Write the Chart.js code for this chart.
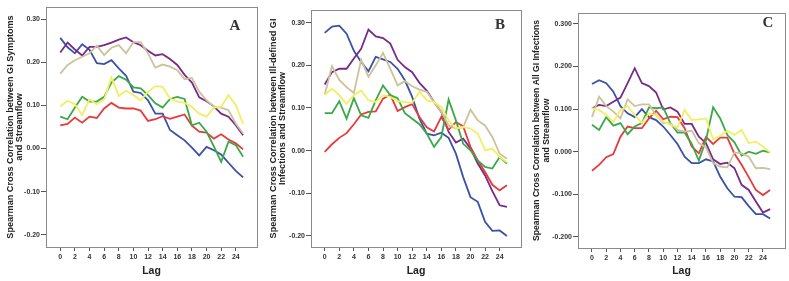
<!DOCTYPE html>
<html>
<head>
<meta charset="utf-8">
<script src="https://cdn.jsdelivr.net/npm/chart.js@4"></script>
<style>
html,body{margin:0;padding:0;background:#fff;}
.wrap{position:absolute;top:0;width:263px;height:281px;}
</style>
</head>
<body>
<div class="wrap" style="left:0"><canvas id="cA" width="263" height="281"></canvas></div>
<div class="wrap" style="left:263px"><canvas id="cB" width="263" height="281"></canvas></div>
<div class="wrap" style="left:526px"><canvas id="cC" width="263" height="281"></canvas></div>
<script>
const lags = [0,1,2,3,4,5,6,7,8,9,10,11,12,13,14,15,16,17,18,19,20,21,22,23,24,25];
const xTickLabels = [0,2,4,6,8,10,12,14,16,18,20,22,24];
const yTicksA = [-0.20,-0.10,0.00,0.10,0.20,0.30];
const yTicksB = [-0.20,-0.10,0.00,0.10,0.20,0.30];
const yTicksC = [-0.200,-0.100,0.000,0.100,0.200,0.300];

// Panel A: GI Symptoms
const A_blue   = [0.257,0.235,0.221,0.242,0.229,0.198,0.196,0.205,0.186,0.169,0.132,0.129,0.112,0.081,0.081,0.043,0.031,0.019,0.002,-0.016,0.004,-0.004,-0.014,-0.033,-0.052,-0.067];
const A_purple = [0.223,0.246,0.230,0.216,0.236,0.236,0.240,0.246,0.253,0.258,0.247,0.240,0.227,0.216,0.219,0.208,0.194,0.171,0.153,0.119,0.110,0.098,0.081,0.074,0.054,0.031];
const A_tan    = [0.174,0.194,0.205,0.213,0.221,0.239,0.217,0.234,0.240,0.221,0.247,0.247,0.221,0.188,0.195,0.190,0.182,0.161,0.164,0.132,0.112,0.097,0.095,0.089,0.058,0.035];
const A_yellow = [0.098,0.111,0.103,0.078,0.114,0.103,0.114,0.165,0.122,0.134,0.124,0.112,0.132,0.145,0.143,0.116,0.109,0.106,0.097,0.081,0.074,0.095,0.097,0.124,0.101,0.057];
const A_green  = [0.074,0.068,0.095,0.120,0.109,0.109,0.120,0.153,0.168,0.160,0.142,0.140,0.124,0.105,0.095,0.115,0.120,0.115,0.054,0.060,0.039,0.005,-0.031,0.016,0.008,-0.019];
const A_red    = [0.054,0.057,0.072,0.060,0.074,0.071,0.093,0.106,0.095,0.093,0.093,0.088,0.064,0.068,0.075,0.069,0.074,0.079,0.053,0.039,0.037,0.023,0.033,0.021,0.012,-0.002];

// Panel B: Ill-defined GI Infections
const B_blue   = [0.276,0.291,0.293,0.274,0.234,0.208,0.186,0.220,0.214,0.208,0.192,0.165,0.126,0.075,0.040,0.036,0.042,0.030,-0.007,-0.062,-0.109,-0.120,-0.167,-0.188,-0.187,-0.200];
const B_purple = [0.155,0.184,0.192,0.192,0.216,0.239,0.284,0.268,0.264,0.251,0.213,0.196,0.184,0.159,0.141,0.114,0.091,0.044,0.019,0.028,0.005,-0.030,-0.058,-0.095,-0.128,-0.132];
const B_tan    = [0.131,0.198,0.166,0.149,0.135,0.213,0.173,0.200,0.229,0.192,0.153,0.163,0.151,0.143,0.138,0.114,0.091,0.059,0.052,0.055,0.096,0.071,0.059,0.032,-0.007,-0.019];
const B_yellow = [0.131,0.145,0.130,0.110,0.130,0.141,0.118,0.114,0.130,0.126,0.116,0.114,0.112,0.138,0.118,0.114,0.102,0.071,0.052,0.055,0.052,0.040,0.001,0.005,-0.015,-0.027];
const B_green  = [0.088,0.088,0.116,0.075,0.123,0.083,0.077,0.118,0.153,0.130,0.123,0.088,0.075,0.062,0.040,0.009,0.032,0.120,0.071,0.016,0.001,-0.023,-0.038,-0.042,-0.015,-0.030];
const B_red    = [-0.003,0.015,0.030,0.041,0.062,0.085,0.091,0.092,0.122,0.131,0.093,0.102,0.109,0.079,0.055,0.045,0.079,0.049,0.067,0.057,0.009,-0.023,-0.050,-0.080,-0.093,-0.081];

// Panel C: All GI Infections
const C_blue   = [0.159,0.168,0.161,0.141,0.107,0.090,0.081,0.100,0.081,0.074,0.059,0.039,0.018,-0.012,-0.027,-0.027,-0.018,-0.023,-0.059,-0.086,-0.106,-0.107,-0.128,-0.147,-0.147,-0.157];
const C_purple = [0.102,0.110,0.107,0.117,0.127,0.161,0.196,0.161,0.154,0.139,0.099,0.104,0.094,0.065,0.065,0.035,0.020,-0.018,-0.029,-0.026,-0.039,-0.078,-0.090,-0.117,-0.143,-0.135];
const C_tan    = [0.081,0.129,0.107,0.094,0.078,0.123,0.107,0.111,0.111,0.086,0.067,0.067,0.051,0.047,0.049,0.020,0.010,-0.027,-0.035,-0.037,-0.002,-0.004,-0.012,-0.039,-0.038,-0.041];
const C_yellow = [0.102,0.098,0.086,0.070,0.098,0.107,0.086,0.067,0.090,0.086,0.070,0.063,0.057,0.098,0.074,0.076,0.078,0.029,0.037,0.049,0.039,0.051,0.020,0.023,0.012,-0.002];
const C_green  = [0.063,0.051,0.081,0.061,0.067,0.041,0.059,0.067,0.104,0.102,0.104,0.067,0.045,0.045,0.018,-0.021,0.027,0.104,0.078,0.039,0.022,-0.009,0.000,-0.005,0.002,-0.002];
const C_red    = [-0.045,-0.031,-0.013,-0.006,0.035,0.059,0.055,0.055,0.078,0.096,0.076,0.082,0.081,0.055,0.012,-0.004,0.034,0.018,0.033,0.033,-0.005,-0.031,-0.060,-0.090,-0.102,-0.090];

const COLORS = {yellow:'#f3ee62', tan:'#ccc29c', green:'#3aa948', red:'#e63a3c', purple:'#782a88', blue:'#3a52a6'};
const FONT = '"Liberation Sans", Arial, sans-serif';

function pts(vals){ return lags.map((l,i)=>({x:l, y:vals[i]})); }
function ds(vals, color){
  return {data:pts(vals), borderColor:color, backgroundColor:color, borderWidth:1.8, pointRadius:0, tension:0, fill:false};
}

const framePlugin = {
  id:'frame',
  afterDraw(chart, args, opts){
    const {ctx, chartArea:a} = chart;
    ctx.save();
    ctx.strokeStyle = '#8a8a8a';
    ctx.lineWidth = 1;
    ctx.strokeRect(Math.round(a.left)+0.5, Math.round(a.top)+0.5, Math.round(a.right-a.left), Math.round(a.bottom-a.top));
    ctx.fillStyle = '#333';
    ctx.font = 'bold 15px "Liberation Serif", "Times New Roman", serif';
    ctx.textAlign = 'center';
    ctx.textBaseline = 'middle';
    ctx.fillText(opts.letter, a.right - opts.dx, opts.y);
    ctx.restore();
  }
};

function makeChart(id, sets, yTicks, title, cfg){
  const datasets = [
    ds(sets[3], COLORS.yellow),
    ds(sets[2], COLORS.tan),
    ds(sets[4], COLORS.green),
    ds(sets[5], COLORS.red),
    ds(sets[1], COLORS.purple),
    ds(sets[0], COLORS.blue)
  ];
  return new Chart(document.getElementById(id), {
    type:'line',
    data:{datasets},
    options:{
      responsive:false, animation:false,
      layout:{padding:{left:0, right:cfg.padR, top:cfg.padT, bottom:0}},
      plugins:{legend:{display:false}, tooltip:{enabled:false}, frame:{letter:cfg.letter, dx:cfg.dx, y:cfg.ly}},
      scales:{
        x:{
          type:'linear', min:cfg.xmin, max:cfg.xmax,
          afterBuildTicks(s){ s.ticks = xTickLabels.map(v=>({value:v})); },
          afterFit(s){ s.height = cfg.xh; },
          grid:{display:true, drawOnChartArea:false, drawTicks:true, tickLength:4, color:'#555'},
          border:{display:true, color:'#777', width:1},
          ticks:{color:'#333', font:{family:FONT, size:7, weight:'bold'}, padding:2, maxRotation:0, autoSkip:false},
          title:{display:true, text:'Lag', color:'#222', font:{family:FONT, size:10.5, weight:'bold'}, padding:{top:1, bottom:4}}
        },
        y:{
          min:cfg.ymin, max:cfg.ymax,
          afterBuildTicks(s){ s.ticks = yTicks.map(v=>({value:v})); },
          afterFit(s){ s.width = cfg.yw; },
          grid:{display:true, drawOnChartArea:false, drawTicks:true, tickLength:5, color:'#555'},
          border:{display:true, color:'#777', width:1},
          ticks:{color:'#333', font:{family:FONT, size:7, weight:'bold'}, padding:1,
            callback:(v)=>Number(v).toFixed(cfg.dec)},
          title:{display:true, text:title, color:'#222', font:{family:FONT, size:cfg.tfs, weight:'bold', lineHeight:cfg.tlh}, padding:{top:cfg.tpad, bottom:0}}
        }
      }
    },
    plugins:[framePlugin]
  });
}

makeChart('cA', [A_blue,A_purple,A_tan,A_yellow,A_green,A_red], yTicksA,
  ['Spearman Cross Correlation between GI Symptoms','and Streamflow'],
  {padR:6, padT:7, yw:46, xh:34, xmin:-1.95, xmax:26.9, ymin:-0.2286, ymax:0.3286, dec:2, letter:'A', dx:22, ly:26,
   tfs:9.1, tlh:'9px', tpad:5.5});
makeChart('cB', [B_blue,B_purple,B_tan,B_yellow,B_green,B_red], yTicksB,
  ['Spearman Cross Correlation between Ill-defined GI','Infections and Streamflow'],
  {padR:5, padT:10, yw:48, xh:34, xmin:-1.88, xmax:26.93, ymin:-0.2258, ymax:0.3297, dec:2, letter:'B', dx:21, ly:25,
   tfs:9.1, tlh:'9.3px', tpad:5.4});
makeChart('cC', [C_blue,C_purple,C_tan,C_yellow,C_green,C_red], yTicksC,
  ['Spearman Cross Correlation between All GI Infections','and Streamflow'],
  {padR:4, padT:13, yw:52, xh:33, xmin:-1.96, xmax:27.09, ymin:-0.2265, ymax:0.3258, dec:3, letter:'C', dx:17, ly:23,
   tfs:8.6, tlh:'9.5px', tpad:6.3});
</script>
</body>
</html>
